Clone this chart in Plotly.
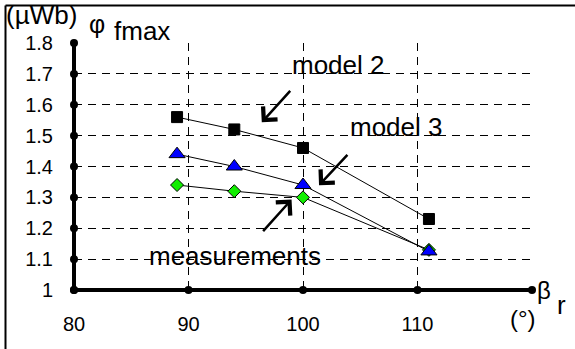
import plotly.graph_objects as go

# ---- data ----
beta = [89, 94, 100, 111]
model2 = [1.56, 1.52, 1.46, 1.23]
model3 = [1.44, 1.40, 1.34, 1.125]
measurements = [1.34, 1.32, 1.30, 1.13]

x_ticks = [80, 90, 100, 110, 120]
x_ticklabels = ["80", "90", "100", "110", ""]
y_ticks = [1.0, 1.1, 1.2, 1.3, 1.4, 1.5, 1.6, 1.7, 1.8]
y_ticklabels = ["1", "1.1", "1.2", "1.3", "1.4", "1.5", "1.6", "1.7", "1.8"]

# ---- layout geometry ----
FW, FH = 575, 349
L, R, T, B = 74, 43, 43, 59
W, H = FW - L - R, FH - T - B


def px(x):
    return (x - L) / W


def py(y):
    return (FH - B - y) / H


FONT = "Liberation Sans, Arial, sans-serif"

fig = go.Figure()

# axis tick dots
fig.add_trace(go.Scatter(x=x_ticks, y=[y_ticks[0]] * len(x_ticks), mode="markers",
                         marker=dict(symbol="circle", size=8, color="black"),
                         cliponaxis=False, hoverinfo="skip", showlegend=False))
fig.add_trace(go.Scatter(x=[x_ticks[0]] * len(y_ticks), y=y_ticks, mode="markers",
                         marker=dict(symbol="circle", size=8, color="black"),
                         cliponaxis=False, hoverinfo="skip", showlegend=False))

# series
fig.add_trace(go.Scatter(x=beta, y=model2, mode="lines+markers", name="model 2",
                         line=dict(color="black", width=1),
                         marker=dict(symbol="square", size=11, color="black",
                                     line=dict(color="black", width=1)),
                         cliponaxis=False, showlegend=False))
fig.add_trace(go.Scatter(x=beta, y=measurements, mode="lines+markers", name="measurements",
                         line=dict(color="black", width=1),
                         marker=dict(symbol="diamond", size=10, color="#11ee00",
                                     line=dict(color="black", width=1)),
                         cliponaxis=False, showlegend=False))
fig.add_trace(go.Scatter(x=beta, y=model3, mode="lines+markers", name="model 3",
                         line=dict(color="black", width=1),
                         marker=dict(symbol="triangle-up", size=14, color="#0000ff",
                                     line=dict(color="black", width=1)),
                         cliponaxis=False, showlegend=False))

shapes = [
    # thick axes
    dict(type="line", xref="x", yref="paper", x0=x_ticks[0], x1=x_ticks[-1], y0=0, y1=0,
         line=dict(color="black", width=4), layer="below"),
    dict(type="line", xref="paper", yref="y", x0=0, x1=0, y0=y_ticks[0], y1=y_ticks[-1],
         line=dict(color="black", width=4), layer="below"),
    # outer frame (left and top)
    dict(type="line", xref="paper", yref="paper", x0=px(5.5), x1=px(5.5), y0=py(FH), y1=py(5.5),
         line=dict(color="black", width=2)),
    dict(type="line", xref="paper", yref="paper", x0=px(5.5), x1=px(FW), y0=py(5.5), y1=py(5.5),
         line=dict(color="black", width=2)),
]

annotations = []


def text(t, x, y, size, xanchor="center"):
    annotations.append(dict(text=t, xref="paper", yref="paper", x=px(x), y=py(y),
                            xanchor=xanchor, yanchor="middle", showarrow=False,
                            font=dict(family=FONT, size=size, color="black")))


def arrow(tail, head):
    annotations.append(dict(text="", xref="x", yref="y", axref="x", ayref="y",
                            x=head[0], y=head[1], ax=tail[0], ay=tail[1],
                            showarrow=True, arrowhead=4, arrowsize=1.5, arrowwidth=2.5,
                            arrowcolor="black", standoff=0, startstandoff=0))


text("(µWb)", 4, 15, 26, "left")
text("φ", 97, 24, 25)
text("fmax", 112, 31, 26, "left")
text("β", 544, 290, 24)
text("r", 561, 305, 26)
text("(°)", 523, 318, 24)

text("model 2", 338, 65, 26)
text("model 3", 396, 127, 26)
text("measurements", 235, 256, 26)

arrow((99.0, 1.65), (96.4, 1.543))
arrow((104.0, 1.4425), (101.4, 1.339))
arrow((96.4, 1.186), (99.0, 1.293))

grid = dict(showgrid=True, gridcolor="black", gridwidth=1, griddash="8px,6px",
            zeroline=False, showline=False, ticks="",
            tickfont=dict(family=FONT, size=20, color="black"))

fig.update_layout(
    width=FW, height=FH,
    margin=dict(l=L, r=R, t=T, b=B, autoexpand=False),
    paper_bgcolor="white", plot_bgcolor="white",
    showlegend=False,
    xaxis=dict(range=[x_ticks[0], x_ticks[-1]], tickmode="array", tickvals=x_ticks,
               ticktext=x_ticklabels, ticklabelstandoff=20, automargin=False, **grid),
    yaxis=dict(range=[y_ticks[0], y_ticks[-1]], tickmode="array", tickvals=y_ticks,
               ticktext=y_ticklabels, ticklabelstandoff=20, automargin=False, **grid),
    shapes=shapes,
    annotations=annotations,
)

fig.write_html("out.html")
